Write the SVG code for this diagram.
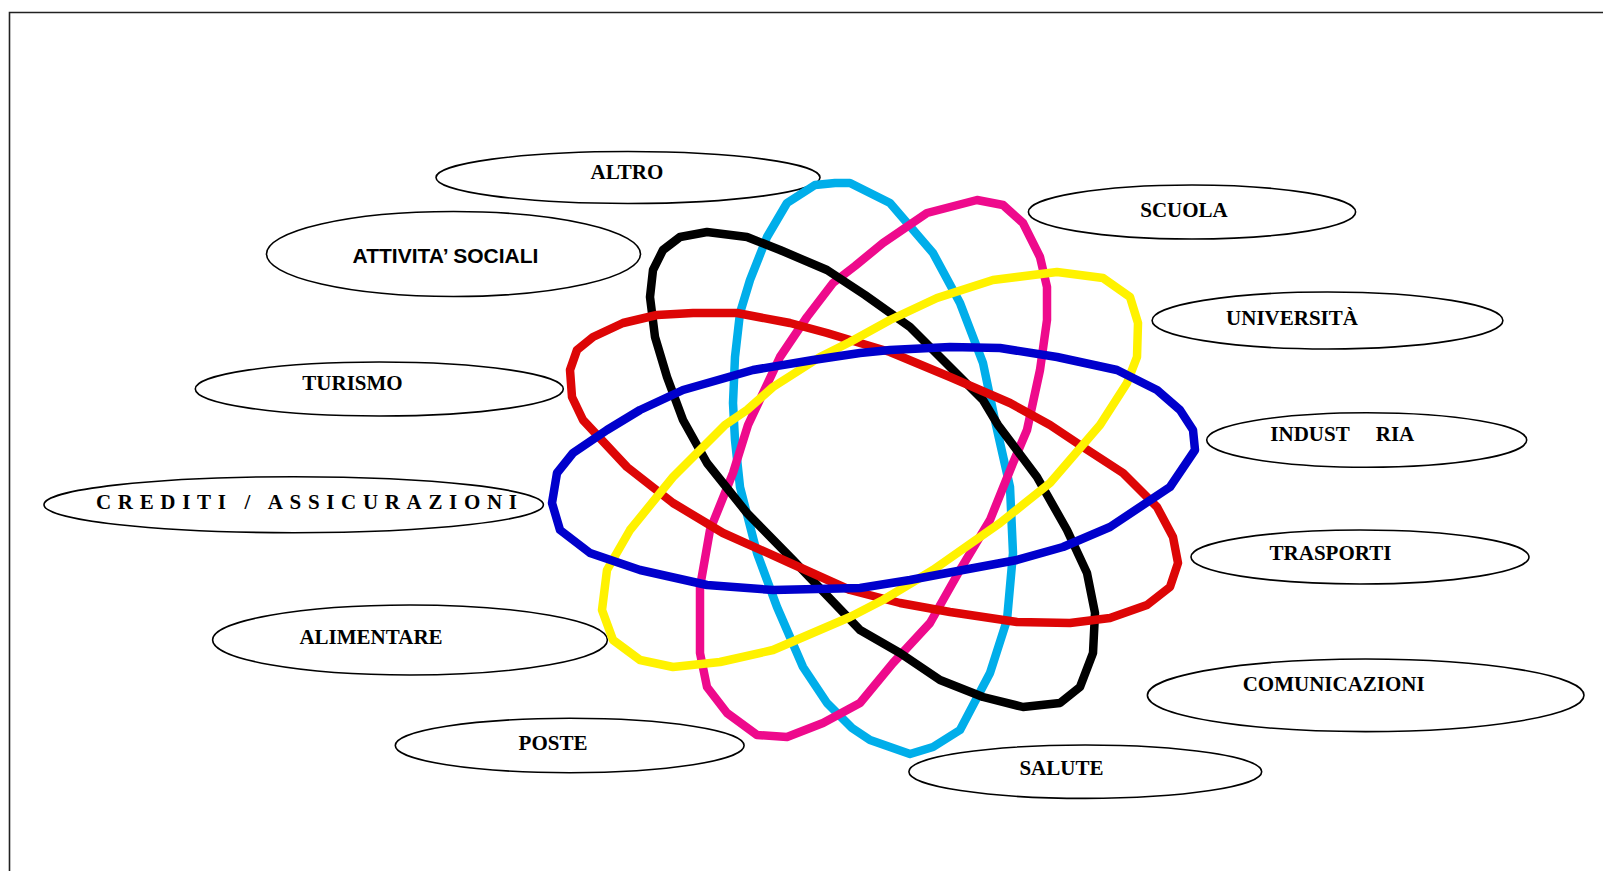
<svg xmlns="http://www.w3.org/2000/svg" width="1603" height="871" viewBox="0 0 1603 871">
<style>
.node ellipse{fill:#fff;stroke:#000;stroke-width:1.6}
.node text{font-family:"Liberation Serif","Times New Roman",serif;font-weight:bold;font-size:21px;fill:#000;text-anchor:middle}
.node text.sans{font-family:"Liberation Sans",Arial,sans-serif}
.ring{fill:none;stroke-width:8.5;stroke-linejoin:round}
</style>
<rect width="1603" height="871" fill="#fff"/>
<path d="M1603,12.5 H9.5 V871" fill="none" stroke="#222" stroke-width="1.6"/>

<g id="n-altro" class="node"><ellipse cx="628" cy="177.5" rx="192" ry="26"/><text x="627" y="179">ALTRO</text></g>
<g id="n-attivita" class="node"><ellipse cx="453.5" cy="254" rx="187" ry="42.5"/><text class="sans" x="445.5" y="263">ATTIVITA’ SOCIALI</text></g>
<g id="n-turismo" class="node"><ellipse cx="379.3" cy="389" rx="184" ry="27"/><text x="352.5" y="390">TURISMO</text></g>
<g id="n-crediti" class="node"><ellipse cx="293.7" cy="504.7" rx="249.7" ry="28"/><text x="96" y="509" style="text-anchor:start" textLength="421" lengthAdjust="spacing">CREDITI /  ASSICURAZIONI</text></g>
<g id="n-alimentare" class="node"><ellipse cx="410" cy="640" rx="197.4" ry="35"/><text x="371" y="644">ALIMENTARE</text></g>
<g id="n-poste" class="node"><ellipse cx="569.7" cy="745.5" rx="174.4" ry="27.2"/><text x="553" y="750">POSTE</text></g>
<g id="n-scuola" class="node"><ellipse cx="1192" cy="212" rx="163.6" ry="27"/><text x="1184" y="217">SCUOLA</text></g>
<g id="n-universita" class="node"><ellipse cx="1327.5" cy="320.5" rx="175.4" ry="28.5"/><text x="1292" y="325">UNIVERSITÀ</text></g>
<g id="n-industria" class="node"><ellipse cx="1366.7" cy="440" rx="160" ry="27.3"/><text x="1310" y="441">INDUST<tspan x="1395">RIA</tspan></text></g>
<g id="n-trasporti" class="node"><ellipse cx="1360" cy="557" rx="169" ry="27"/><text x="1330.5" y="560">TRASPORTI</text></g>
<g id="n-comunicazioni" class="node"><ellipse cx="1365.7" cy="695.3" rx="218.3" ry="36.3"/><text x="1333.7" y="690.5">COMUNICAZIONI</text></g>
<g id="n-salute" class="node"><ellipse cx="1085.3" cy="771.7" rx="176.4" ry="26.7"/><text x="1061.4" y="775">SALUTE</text></g>

<g id="connectors">
<path class="ring" stroke="#00AEEA" d="M835,183 L815,185 L787,203 L767,237 L750,280 L740,313 L735,357 L733,403 L735,440 L740,487 L757,553 L777,607 L803,667 L827,703 L852,728 L870,740 L910,754 L933,747 L960,730 L990,673 L1007,620 L1013,553 L1010,487 L996,425 L983,363 L960,303 L933,253 L890,203 L850,183 Z"/>
<path class="ring" stroke="#EE0A8C" d="M977,200 L1003,205 L1023,223 L1040,257 L1047,287 L1047,320 L1040,370 L1027,430 L1013,463 L990,520 L960,570 L930,623 L893,663 L860,703 L823,723 L787,737 L757,735 L727,713 L707,687 L700,653 L700,587 L710,530 L733,473 L748,425 L780,357 L807,317 L833,283 L855,266 L883,243 L927,213 Z"/>
<path class="ring" stroke="#000" d="M707,232 L747,237 L780,250 L827,270 L865,295 L910,327 L950,367 L983,400 L998,425 L1037,477 L1067,530 L1087,573 L1095,613 L1093,653 L1080,687 L1060,703 L1023,707 L983,697 L940,680 L900,653 L860,630 L793,560 L747,513 L707,463 L683,420 L667,377 L655,337 L650,297 L653,270 L663,250 L680,237 Z"/>
<path class="ring" stroke="#DD0606" d="M693,313 L737,313 L790,323 L827,333 L860,343 L890,352 L950,377 L1010,403 L1050,425 L1083,447 L1123,473 L1157,507 L1173,537 L1178,563 L1170,587 L1147,605 L1110,618 L1070,623 L1017,622 L950,612 L900,603 L850,590 L790,563 L723,533 L673,503 L627,467 L583,420 L572,397 L570,370 L577,350 L593,337 L623,323 L657,315 Z"/>
<path class="ring" stroke="#FFF200" d="M1057,272 L1103,278 L1130,297 L1138,323 L1137,357 L1127,383 L1100,425 L1050,483 L1000,523 L933,570 L883,600 L850,617 L773,650 L720,662 L673,667 L640,660 L613,640 L602,610 L607,570 L630,530 L673,477 L725,425 L747,410 L773,387 L820,357 L850,342 L890,320 L937,298 L993,280 Z"/>
<path class="ring" stroke="#0000CC" d="M860,353 L890,350 L950,347 L1000,348 L1057,357 L1117,370 L1157,390 L1180,410 L1193,430 L1195,450 L1170,487 L1110,527 L1063,547 L1017,560 L963,570 L910,580 L860,588 L773,590 L707,585 L640,570 L590,553 L560,530 L552,503 L557,473 L573,453 L607,430 L640,410 L683,390 L753,370 L813,360 Z"/>
</g>
</svg>
